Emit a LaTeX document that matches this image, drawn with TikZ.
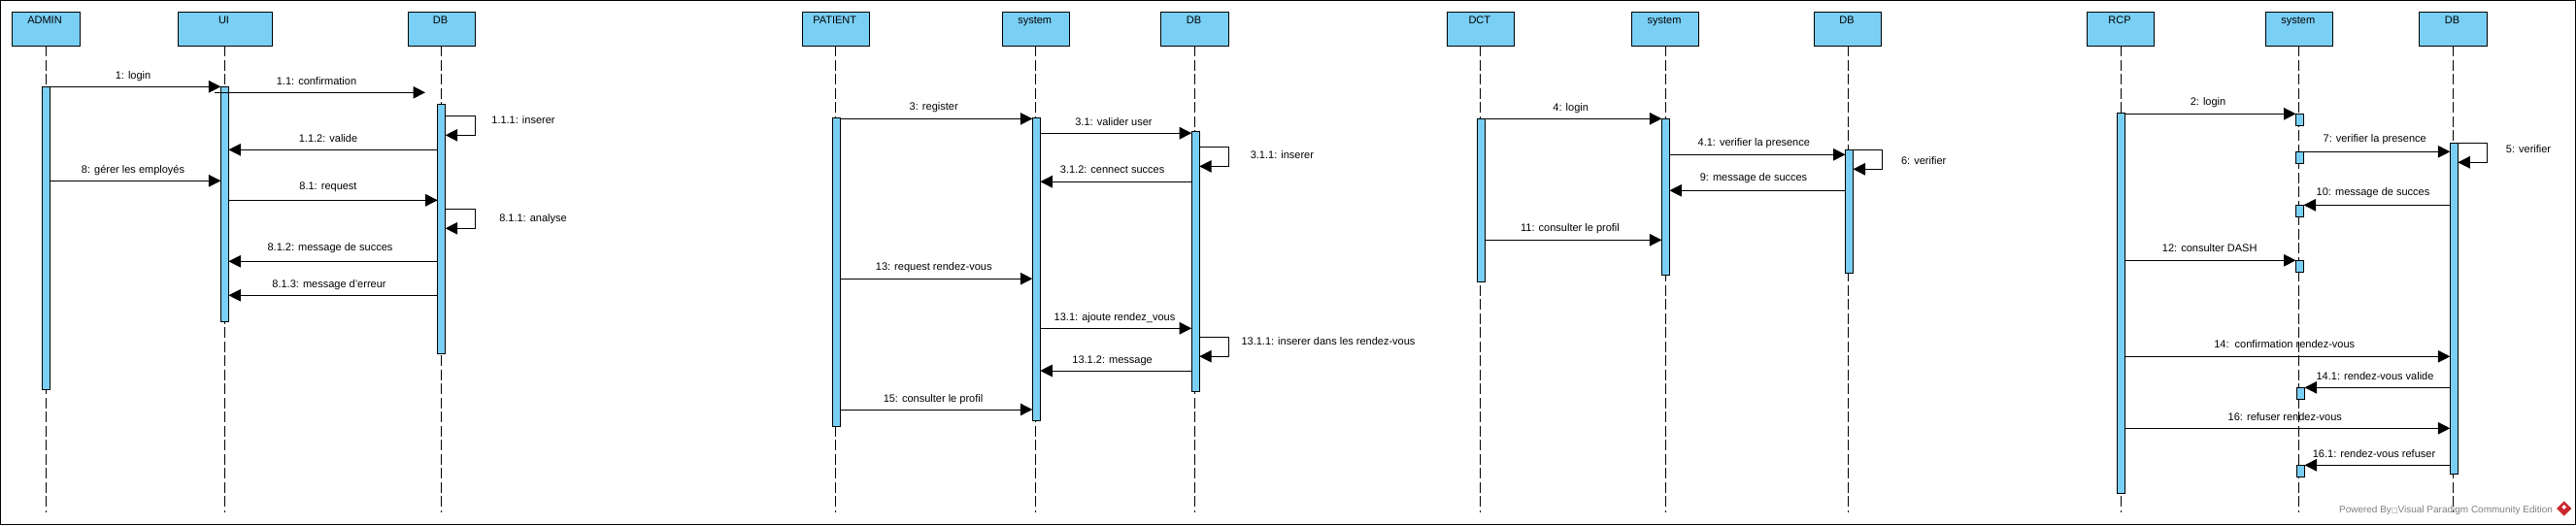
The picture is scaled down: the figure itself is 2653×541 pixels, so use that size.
\documentclass[tikz,border=0pt]{standalone}
\usepackage{fontspec}
\setmainfont{Liberation Sans}
\newfontfamily\symfont{DejaVu Sans}
\usetikzlibrary{arrows.meta,shapes.geometric}
\definecolor{lifeBlue}{HTML}{7ACFF5}
\definecolor{logoRed}{HTML}{C9282D}
\begin{document}
\begin{tikzpicture}
[x=1pt,y=-1pt,
  boxDecorate/.style={shape=rectangle,draw,line width=1pt,fill=lifeBlue,outer sep=0pt,inner sep=0pt,minimum width=69.5pt,minimum height=35pt},%
  barDecorate/.style={shape=rectangle,draw,line width=1pt,fill=lifeBlue,outer sep=0pt,inner sep=0pt,minimum width=8pt,anchor=north},%
  textDecorate/.style={inner sep=0pt,anchor=base,font=\fontsize{11}{13}\selectfont},%
  lineDecorate/.style={line width=1pt,dash pattern=on 11pt off 3.5pt},%
  msgDecorate/.style={line width=1pt,-{Triangle[length=12.5pt,width=12.5pt]}}]
\useasboundingbox (0,0) rectangle (2653,541);
\draw[line width=1.2pt] (0.6,0.6) rectangle (2652.4,540.4);
%% lifeline heads and dashed lines
\foreach \nodename/\x/\w/\txt in {
  admin/47/70/ADMIN, ui/231.5/97/UI, dbA/454.5/69/DB,
  patient/860.7/69.4/PATIENT, sysB/1066.7/69.4/system, dbB/1230.6/69.4/DB,
  dct/1524.8/69.4/DCT, sysC/1715/69.4/system, dbC/1903/69.4/DB,
  rcp/2184/69.4/RCP, sysD/2367.8/69/system, dbD/2526.6/69.4/DB}
{
  \node (\nodename) at (\x,29.5) [boxDecorate,minimum width=\w pt] {};
  \node (head\nodename) at (\x-1,24.5) [textDecorate] {\txt};
  \coordinate (end\nodename) at (\nodename.south |- 0,528);
  \draw[lineDecorate] (\nodename.south) -- (end\nodename);
}
%% activation bars
\foreach \nodename/\x/\ytop/\ybot in {
  barAdmin/47.4/89.3/401.3, barUi/231.4/89.3/331.3, barDbA/454.7/107.3/364.3,
  barPatient/861.3/121.4/439.6, barSysB/1067.3/121.4/433, barDbB/1231.2/135.2/403,
  barDct/1525.4/122.3/290.3, barSysC/1715.4/122.3/283.7, barDbC/1904.5/154.3/281.3,
  barRcp/2184.7/116.3/508.7, barDbD/2527.3/147.3/488.7,
  barSysD/2368.5/117.3/129.3, barSysE/2368.5/156.3/168.3, barSysF/2368.5/211.3/223.3,
  barSysG/2368.5/268.3/280.3, barSysH/2369.5/399.3/411.3, barSysI/2369.5/479.3/491.3}
{
  \node (\nodename) at (\x,\ytop) [barDecorate,minimum height={(\ybot-\ytop)*1pt}] {};
}
%% messages to the right
\foreach \startnode/\endnode/\y in {
  barAdmin/barUi/89.3, barAdmin/barUi/186.3, barUi/barDbA/206.3,
  barPatient/barSysB/122.4, barSysB/barDbB/137.2, barPatient/barSysB/287.2,
  barSysB/barDbB/338.3, barPatient/barSysB/422,
  barDct/barSysC/122.3, barSysC/barDbC/159.3, barDct/barSysC/247.3,
  barRcp/barSysD/117.3, barSysE/barDbD/156.3, barRcp/barSysG/268.3,
  barRcp/barDbD/367.3, barRcp/barDbD/441.3}
{
  \draw[msgDecorate] (\startnode.east |- 0,\y) -- (\endnode.west |- 0,\y);
}
%% messages to the left
\foreach \startnode/\endnode/\y in {
  barDbA/barUi/154.3, barDbA/barUi/269.3, barDbA/barUi/304.3,
  barDbB/barSysB/187.2, barDbB/barSysB/382,
  barDbC/barSysC/196.3,
  barDbD/barSysF/211.3, barDbD/barSysH/399.3, barDbD/barSysI/479.3}
{
  \draw[msgDecorate] (\startnode.west |- 0,\y) -- (\endnode.east |- 0,\y);
}
%% messages to the bar itself
\foreach \startnode/\ya/\yb/\xr in {
  barDbA/119.3/139.3/489.4, barDbA/215.3/235.3/489.4,
  barDbB/151.4/171.4/1265.3, barDbB/347.2/367.2/1265.3,
  barDbC/154.3/174.3/1938.8, barDbD/147.3/167.3/2561.3}
{
  \draw[msgDecorate] (\startnode.east |- 0,\ya) -- (\xr,\ya) -- (\xr,\yb) -- (\startnode.east |- 0,\yb);
}
%% the message with free ends
\coordinate (confStart) at (221,95.3);
\coordinate (confEnd) at (438,95.3);
\draw[msgDecorate] (confStart) -- (confEnd);
%% message labels
\foreach \nodename/\x/\y/\txt in {
  t1/137/81/1: login, t2/326/87/1.1: confirmation, t3/539/127/1.1.1: inserer,
  t4/338/146/1.1.2: valide, t5/137/178/8: gérer les employés, t6/338/195/8.1: request,
  t7/549/228/8.1.1: analyse, t8/340/258/8.1.2: message de succes, t9/339/296/8.1.3: message d'erreur,
  t10/961.7/113.3/3: register, t11/1147/129/3.1: valider user, t12/1320.4/163/3.1.1: inserer,
  t13/1145.6/178/3.1.2: cennect succes, t14/961.7/278/13: request rendez-vous,
  t15/1148/330/13.1: ajoute rendez\_vous, t16/1368/355.7/13.1.1: inserer dans les rendez-vous,
  t17/1145.6/374/13.1.2: message, t18/961/414/15: consulter le profil,
  t19/1617.7/114/4: login, t20/1806.3/150.3/4.1: verifier la presence, t21/1981.2/169.3/6: verifier,
  t22/1806/186.3/9: message de succes, t23/1617/238.3/11: consulter le profil,
  t24/2274/108.3/2: login, t25/2445.7/146.3/7: verifier la presence, t26/2604/157/5: verifier,
  t27/2444/201.3/10: message de succes, t28/2275.7/259/12: consulter DASH,
  t29/2352.7/358/14:~~confirmation rendez-vous, t30/2446/391/14.1: rendez-vous valide,
  t31/2353.3/433/16: refuser rendez-vous, t32/2445/471/16.1: rendez-vous refuser}
{
  \node (\nodename) at (\x,\y) [textDecorate] {\txt};
}
%% footer
\node (footer) at (2519,528.2) [textDecorate,font=\fontsize{10}{12}\selectfont,text=gray] {Powered By{\symfont\fontsize{7}{8}\selectfont □}Visual Paradigm Community Edition};
\node (logo) at (2640.7,524) [shape=diamond,fill=logoRed,inner sep=0pt,minimum size=15.5pt] {};
\node (logoMark) at (2640.7,522.5) [shape=diamond,fill=white,inner sep=0pt,minimum size=5pt] {};
\end{tikzpicture}
\end{document}
